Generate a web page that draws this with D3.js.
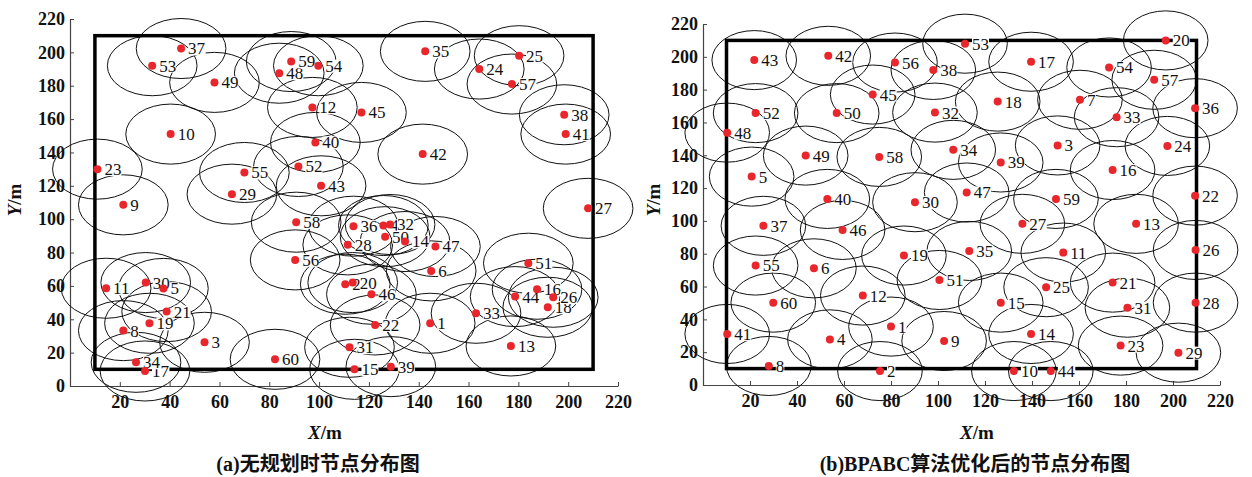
<!DOCTYPE html>
<html>
<head>
<meta charset="utf-8">
<script src="https://cdn.jsdelivr.net/npm/d3@7"></script>
<style>
  html, body { margin: 0; padding: 0; background: #fff; }
  svg { display: block; }
</style>
</head>
<body>
<svg id="chart" width="1252" height="477"></svg>
<script>
// ---------- data ----------
const tickValuesX = [20, 40, 60, 80, 100, 120, 140, 160, 180, 200, 220];
const tickValuesY = [0, 20, 40, 60, 80, 100, 120, 140, 160, 180, 200, 220];
const sensingRadius = 18;
const areaMin = 10, areaMax = 210;

// panel (a): random deployment
const idsA = [1,2,3,4,5,6,8,9,10,11,12,13,14,15,16,17,18,19,20,21,22,23,24,25,26,27,28,29,30,31,32,33,34,35,36,37,38,39,40,41,42,43,44,45,46,47,48,49,50,51,52,53,54,55,56,57,58,59,60];
const xsA = [144.6,110.5,54,125.8,37.5,145,21.4,21.4,40.4,14.5,97.3,177,134.5,114.2,187.5,30.1,191.8,31.9,113.5,38.8,122.5,11,164.3,180.3,194,208,111.5,65,30.4,112.2,128.5,163,26.5,142.6,113.8,44.6,198.4,128.8,98.5,199,141.6,100.8,178.7,117,121,146.7,84,58,126.5,184,91.7,33,99.7,70,90.4,177.4,90.8,88.8,82.3];
const ysA = [37.6,61,26.2,96.2,58.5,69,33.2,108.6,151,58.6,167,24,86.6,10,58,9,47.2,37.6,62,44.6,36.6,130,190,198,53.2,106.5,84.6,115,62,23.2,96.8,43.6,14.2,200.6,95.8,202.3,162.6,11.6,146,151,139,120,53.6,164,55,83.6,187.5,182,89.5,73.6,131.6,192,192,128,75.6,181,98.2,194.5,16];

// panel (b): after BPABC optimisation
const idsB = [1,2,3,4,5,6,7,8,9,10,11,12,13,14,15,16,17,18,19,20,21,22,23,24,25,26,27,28,29,30,31,32,33,34,35,36,37,38,39,40,41,42,43,44,45,46,47,48,49,50,51,52,53,54,55,56,57,58,59,60];
const xsB = [80,75.3,150.9,54,20.7,47.2,160.4,28,102.6,132.3,153.3,68,184.3,139.6,126.7,174.3,139.6,125.4,85.5,196.9,174.3,209.4,177.7,197.6,146,209.6,135.9,209.6,202.3,90.2,180.6,98.7,176,106.5,113.3,209.4,25.7,98,126.7,52.9,10.3,53.3,21.8,148,72.2,59.4,112.2,10.3,43.7,56.9,100.6,22.4,111.5,172.8,22.4,81.7,192,75,150.2,29.9];
const ysB = [35.6,8.5,146,27.8,127,71.1,173.8,11.6,26.8,8.5,80.7,54.5,98.2,31.1,50.2,131,197,172.7,78.9,210,62.4,115.4,24,145.7,59.6,82.3,98.2,50.2,19.7,111.4,47.1,166,163.2,143.3,81.7,168.7,97,192,135.6,113.4,31.1,200.6,198,8.5,177,94.5,117.3,153.8,139.8,165.7,64,165.7,208,193.5,72.8,196.5,186,139,113.4,50.2];

const captionA = "(a)无规划时节点分布图";
const captionB = "(b)BPABC算法优化后的节点分布图";

// ---------- drawing ----------
const svg = d3.select("#chart");
const serif = '"Liberation Serif", Tinos, "DejaVu Serif", serif, "Noto Sans CJK SC"';

function drawPanel(cfg) {
  const x = d3.scaleLinear().domain([0, 220]).range(cfg.xRange);
  const y = d3.scaleLinear().domain([0, 220]).range(cfg.yRange);
  const g = svg.append("g");
  const nodes = cfg.ids.map((id, i) => ({ id, x: cfg.xs[i], y: cfg.ys[i] }));

  // axes
  const xAxis = d3.axisBottom(x).tickValues(tickValuesX).tickSizeInner(-4).tickSizeOuter(0).tickPadding(9);
  const yAxis = d3.axisLeft(y).tickValues(tickValuesY).tickSizeInner(-4).tickSizeOuter(0).tickPadding(5);
  const gx = g.append("g").attr("transform", `translate(0,${cfg.yRange[0]})`).call(xAxis);
  const gy = g.append("g").attr("transform", `translate(${cfg.xRange[0]},0)`).call(yAxis);
  [gx, gy].forEach(a => {
    a.attr("font-family", null).attr("font-size", null);
    a.select(".domain").attr("stroke", "#444").attr("stroke-width", 1.2);
    a.selectAll(".tick line").attr("stroke", "#444").attr("stroke-width", 1);
    a.selectAll(".tick text").style("font-family", serif).style("font-size", "18px")
      .style("font-weight", "bold").attr("fill", "#111");
  });

  // sensing circles
  const rx = x(sensingRadius) - x(0);
  const ry = y(0) - y(sensingRadius);
  g.append("g").selectAll("ellipse").data(nodes).join("ellipse")
    .attr("cx", d => x(d.x)).attr("cy", d => y(d.y))
    .attr("rx", rx).attr("ry", ry)
    .attr("fill", "none").attr("stroke", "#111").attr("stroke-width", 1);

  // monitoring area
  g.append("rect")
    .attr("x", x(areaMin)).attr("y", y(areaMax))
    .attr("width", x(areaMax) - x(areaMin)).attr("height", y(areaMin) - y(areaMax))
    .attr("fill", "none").attr("stroke", "#000").attr("stroke-width", 3.5);

  // labels with white backing
  const lg = g.append("g");
  const labels = lg.selectAll("g").data(nodes).join("g");
  labels.append("text")
    .attr("x", d => x(d.x) + 7).attr("y", d => y(d.y))
    .attr("dy", "0.35em")
    .style("font-family", serif).style("font-size", "17px").attr("fill", "#111")
    .text(d => d.id);
  labels.each(function () {
    const t = d3.select(this).select("text");
    const b = t.node().getBBox();
    d3.select(this).insert("rect", "text")
      .attr("x", b.x).attr("y", b.y + 3).attr("width", b.width).attr("height", b.height - 6)
      .attr("fill", "#fff");
  });

  // nodes
  g.append("g").selectAll("circle").data(nodes).join("circle")
    .attr("cx", d => x(d.x)).attr("cy", d => y(d.y)).attr("r", 4)
    .attr("fill", "#e8262b");

  // axis titles
  const xt = g.append("text")
    .attr("x", cfg.xTitleX).attr("y", 439)
    .attr("text-anchor", "middle").style("font-family", serif)
    .style("font-size", "19px").style("font-weight", "bold").attr("fill", "#111");
  xt.append("tspan").style("font-style", "italic").text("X");
  xt.append("tspan").text("/m");

  const yt = g.append("text")
    .attr("transform", `translate(${cfg.yTitleX},200) rotate(-90)`)
    .attr("text-anchor", "middle").style("font-family", serif)
    .style("font-size", "19px").style("font-weight", "bold").attr("fill", "#111");
  yt.append("tspan").style("font-style", "italic").text("Y");
  yt.append("tspan").text("/m");

  // caption
  g.append("text")
    .attr("x", cfg.captionX).attr("y", 471)
    .attr("text-anchor", "middle").style("font-family", serif)
    .style("font-size", "20px").style("font-weight", "bold").attr("fill", "#111")
    .text(cfg.caption);
}

drawPanel({ ids: idsA, xs: xsA, ys: ysA, xRange: [70, 618], yRange: [386, 19],
  xTitleX: 325, yTitleX: 21, captionX: 318, caption: captionA });
drawPanel({ ids: idsB, xs: xsB, ys: ysB, xRange: [703, 1220], yRange: [385, 24],
  xTitleX: 977, yTitleX: 660, captionX: 975, caption: captionB });
</script>
</body>
</html>
